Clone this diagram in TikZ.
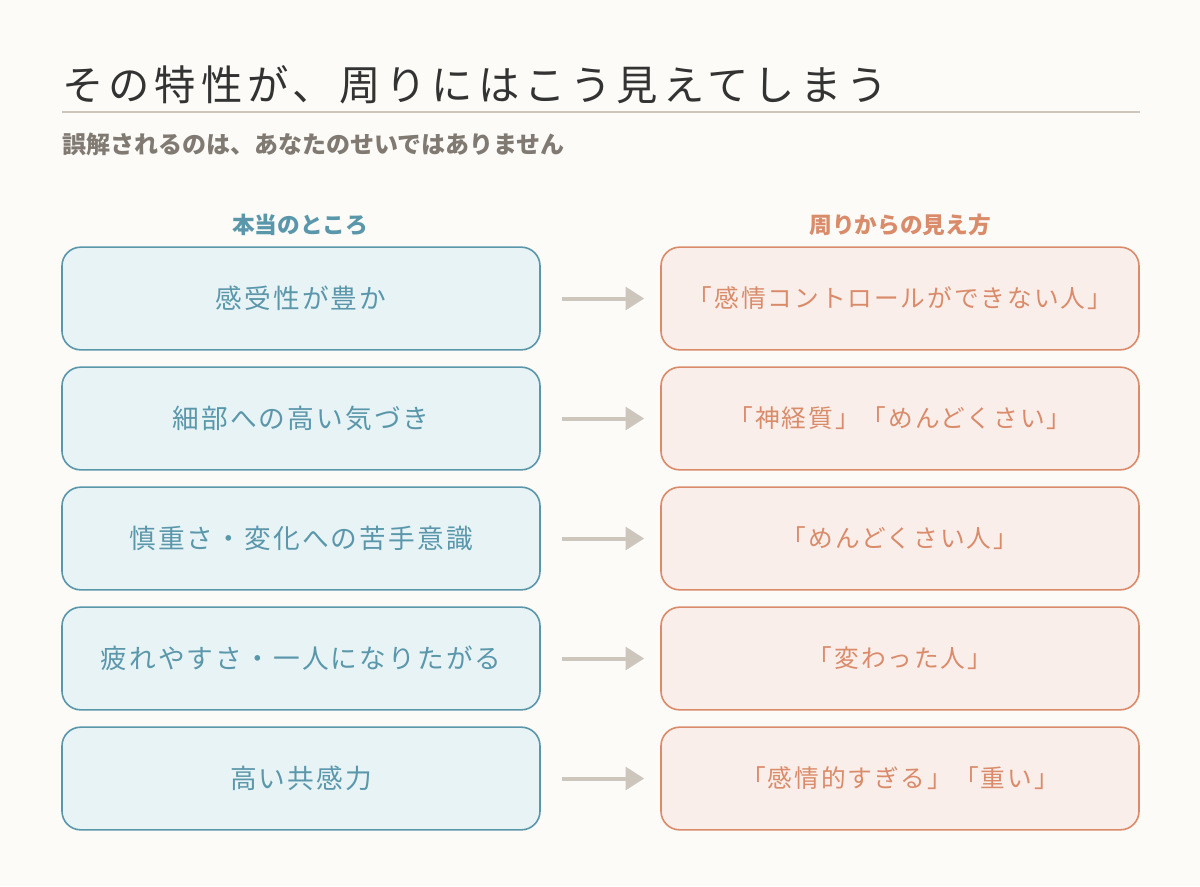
\documentclass[tikz,border=0pt]{standalone}
\usepackage{fontspec}
\setmainfont{Noto Sans CJK JP}
\newfontfamily\spaced[LetterSpace=8]{Noto Sans CJK JP}
\newfontfamily\wide[LetterSpace=12]{Noto Sans CJK JP}
\usetikzlibrary{positioning,arrows.meta}
\definecolor{bgc}{HTML}{FCFBF7}
\definecolor{truec}{HTML}{5A97AB}
\definecolor{truefill}{HTML}{E8F3F6}
\definecolor{seenc}{HTML}{D98B6A}
\definecolor{seenfill}{HTML}{FAEEEA}
\definecolor{greyc}{HTML}{CCC6BD}
\definecolor{subc}{HTML}{807A72}
\tikzset{
  real/.style={draw=truec, fill=truefill, line width=1.2pt, rounded corners=14pt,
    minimum width=358.5pt, minimum height=77pt, text=truec, font=\spaced\fontsize{20}{24}\selectfont},
  seen/.style={draw=seenc, fill=seenfill, line width=1.2pt, rounded corners=14pt,
    minimum width=358.5pt, minimum height=77pt, text=seenc, font=\spaced\fontsize{18.5}{22}\selectfont},
  head/.style={font=\bfseries\fontsize{17}{20}\selectfont},
  link/.style={greyc, line width=3pt, -{Triangle[length=14pt,width=17pt]}}
}
\begin{document}
\begin{tikzpicture}[x=0.75pt,y=-0.75pt]
\fill[bgc] (0,0) rectangle (1200,886);
\node (title)[anchor=base west, inner sep=0, font=\wide\fontsize{31}{36}\selectfont, text=black!80] at (62,100) {その特性が、周りにはこう見えてしまう};
\draw[greyc, line width=2pt] (62,112) -- (1140,112);
\node (sub)[anchor=base west, inner sep=0, font=\bfseries\fontsize{18}{21}\selectfont, text=subc] at (62,153) {誤解されるのは、あなたのせいではありません};
\node (hl)[head, text=truec] at (300,225) {本当のところ};
\node (hr)[head, text=seenc] at (900,225) {周りからの見え方};
\foreach \i/\a/\b in {1/感受性が豊か/「感情コントロールができない人」,
  2/細部への高い気づき/「神経質」「めんどくさい」,
  3/慎重さ・変化への苦手意識/「めんどくさい人」,
  4/疲れやすさ・一人になりたがる/「変わった人」,
  5/高い共感力/「感情的すぎる」「重い」}{
  \node (l\i)[real] at (301,178.5+120*\i) {\a};
  \node (r\i)[seen] at (900,178.5+120*\i) {\b};
  \draw[link] ([xshift=16pt]l\i.east) -- ([xshift=-12pt]r\i.west);
}
\end{tikzpicture}
\end{document}
